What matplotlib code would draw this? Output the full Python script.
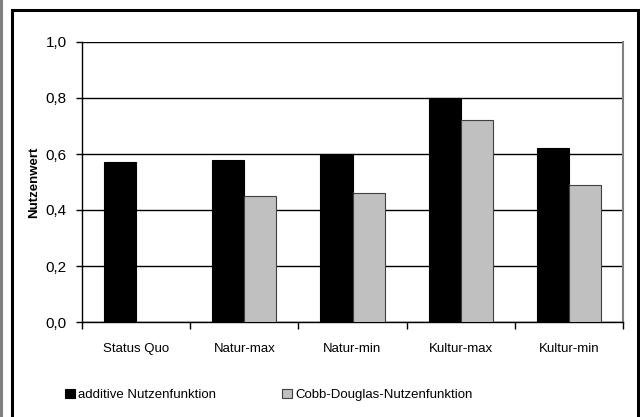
# Nutzenwert-Vergleich der Szenarien
import matplotlib.pyplot as plt
import matplotlib.patches as mpatches
import numpy as np

plt.rcParams["font.family"] = ["Liberation Sans", "DejaVu Sans"]
plt.rcParams["font.size"] = 9.5

szenarien = ["Status Quo", "Natur-max", "Natur-min", "Kultur-max", "Kultur-min"]
additiv = [0.57, 0.58, 0.60, 0.80, 0.62]
cobb_douglas = [np.nan, 0.45, 0.46, 0.72, 0.49]
y_ticks = [0.0, 0.2, 0.4, 0.6, 0.8, 1.0]
y_labels = ["0,0", "0,2", "0,4", "0,6", "0,8", "1,0"]

W, H = 640, 417
fig = plt.figure(figsize=(W / 100, H / 100), dpi=100)

# outer frame (chart area border)
fig.patches.append(mpatches.Rectangle((12 / W, -0.05), 626 / W, (H - 10) / H + 0.05,
                                      transform=fig.transFigure, fill=False,
                                      edgecolor="black", linewidth=2.2))
fig.patches.append(mpatches.Rectangle((0, -0.05), 1.5 / W, 1.1,
                                      transform=fig.transFigure, fill=False,
                                      edgecolor="#808080", linewidth=1.5))

ax = fig.add_axes([82 / W, (H - 322) / H, (623 - 82) / W, (322 - 42) / H])

x = np.arange(len(szenarien))
bw = 0.296
ax.bar(x - bw / 2, additiv, width=bw, color="black", edgecolor="black",
       linewidth=0.8, label="additive Nutzenfunktion", zorder=3)
ax.bar(x + bw / 2, cobb_douglas, width=bw, color="#C0C0C0", edgecolor="#404040",
       linewidth=0.8, label="Cobb-Douglas-Nutzenfunktion", zorder=3)

ax.set_ylim(0, 1.0)
ax.set_xlim(-0.5, len(szenarien) - 0.5)
ax.set_yticks(y_ticks)
ax.set_yticklabels(y_labels, fontsize=11)
ax.yaxis.grid(True, color="black", linewidth=1.0, zorder=0)

ax.set_xticks(np.arange(-0.5, len(szenarien), 1.0))
ax.set_xticklabels([])
ax.set_xticks(x, minor=True)
ax.set_xticklabels(szenarien, minor=True)
ax.tick_params(axis="x", which="major", direction="out", length=5, width=1)
ax.tick_params(axis="x", which="minor", length=0, pad=15)
ax.tick_params(axis="y", direction="out", length=4, width=1, pad=7)

ax.spines["top"].set_visible(False)
ax.spines["right"].set_color("#808080")
ax.spines["right"].set_linewidth(1.5)
ax.spines["left"].set_linewidth(1.0)
ax.spines["bottom"].set_linewidth(1.0)

ax.set_ylabel("Nutzenwert", fontweight="bold", labelpad=4)

handles, labels = ax.get_legend_handles_labels()
fig.legend(handles, labels, loc="center left", bbox_to_anchor=(53 / W, 1 - 395 / H),
           ncol=2, frameon=False, handlelength=0.75, handleheight=0.75,
           handletextpad=0.25, columnspacing=5.0)

fig.savefig("out.png", dpi=100)
